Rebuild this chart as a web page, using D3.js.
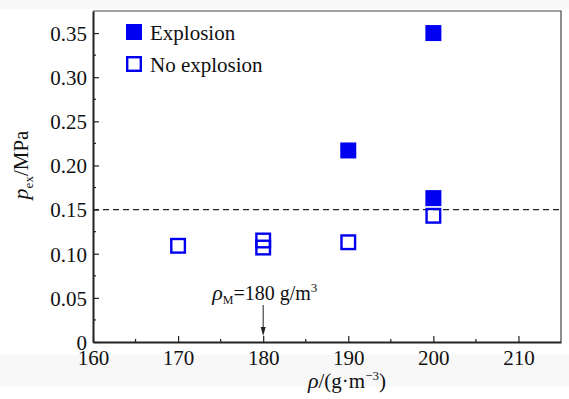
<!DOCTYPE html>
<html><head><meta charset="utf-8">
<script src="https://cdn.jsdelivr.net/npm/d3@7"></script>
<style>body{margin:0;background:#fff}svg{display:block}text{font-family:"Liberation Serif","Times New Roman",serif}</style>
</head><body><svg id="c" width="569" height="399"></svg>
<script>
const explosionX = [190, 200, 200];
const explosionY = [0.217, 0.350, 0.163];
const noExplosionX = [170, 180, 180, 190, 200];
const noExplosionY = [0.109, 0.115, 0.107, 0.113, 0.143];
const xTicks = [160, 170, 180, 190, 200, 210];
const yTicks = [0, 0.05, 0.10, 0.15, 0.20, 0.25, 0.30, 0.35];
const threshold = 0.15;
const rhoM = 180;

const svg = d3.select('#c');
const m = {l: 93, r: 561, t: 11, b: 342};
svg.append('rect').attr('x',0).attr('y',355).attr('width',569).attr('height',32).attr('fill','#f8f8f8');
svg.append('rect').attr('x',0).attr('y',0).attr('width',569).attr('height',9).attr('fill','#f8f8f8');
svg.append('rect').attr('x',m.l).attr('y',m.t).attr('width',m.r-m.l).attr('height',m.b-m.t).attr('fill','#fff');

const x = d3.scaleLinear().domain([160, 215]).range([m.l, m.r]);
const y = d3.scaleLinear().domain([0, 0.375]).range([m.b, m.t]);

svg.append('path').attr('d',`M${m.l},${m.t}H${m.r}V${m.b}`).attr('fill','none').attr('stroke','#444').attr('stroke-width',1.2);

const xMinor = d3.range(165, 215, 10);
svg.append('g').selectAll('line').data(xMinor).join('line')
  .attr('x1',d=>x(d)).attr('x2',d=>x(d)).attr('y1',m.b).attr('y2',m.b-3).attr('stroke','#222').attr('stroke-width',1.2);
const yMinor = d3.range(0.025, 0.375, 0.05);
svg.append('g').selectAll('line').data(yMinor).join('line')
  .attr('y1',d=>y(d)).attr('y2',d=>y(d)).attr('x1',m.l).attr('x2',m.l+3).attr('stroke','#222').attr('stroke-width',1.2);

const xAxis = svg.append('g').attr('transform',`translate(0,${m.b})`)
  .call(d3.axisBottom(x).tickValues(xTicks).tickSizeInner(-6).tickSizeOuter(0).tickPadding(8).tickFormat(d3.format('d')));
const yAxis = svg.append('g').attr('transform',`translate(${m.l},0)`)
  .call(d3.axisLeft(y).tickValues(yTicks).tickSizeInner(-6).tickSizeOuter(0).tickPadding(6).tickFormat(d=>d===0?'0':d3.format('.2f')(d)));
[xAxis,yAxis].forEach(a=>{
  a.select('.domain').attr('stroke','#222').attr('stroke-width',2);
  a.selectAll('.tick line').attr('stroke','#222').attr('stroke-width',1.2);
  a.selectAll('text').attr('font-size',21).attr('fill','#111').style('font-family','"Liberation Serif",serif');
});
xAxis.selectAll('text').attr('dy','0.72em');
yAxis.selectAll('text').attr('dy','0.35em');

svg.append('line').attr('x1',m.l).attr('x2',m.r).attr('y1',y(threshold)).attr('y2',y(threshold))
  .attr('stroke','#222').attr('stroke-width',1.2).attr('stroke-dasharray','6,4');

const s = 16;
svg.append('g').selectAll('rect').data(noExplosionX.map((d,i)=>[d,noExplosionY[i]])).join('rect')
  .attr('x',d=>x(d[0])-s/2+1.2).attr('y',d=>y(d[1])-s/2+1.2).attr('width',s-2.4).attr('height',s-2.4)
  .attr('fill','none').attr('stroke','#0000ee').attr('stroke-width',2.4);
svg.append('g').selectAll('rect').data(explosionX.map((d,i)=>[d,explosionY[i]])).join('rect')
  .attr('x',d=>x(d[0])-s/2).attr('y',d=>y(d[1])-s/2).attr('width',s).attr('height',s)
  .attr('fill','#0000f0');

svg.append('rect').attr('x',126).attr('y',24).attr('width',16).attr('height',16).attr('fill','#0000f0');
svg.append('rect').attr('x',127.2).attr('y',57.2).attr('width',13.6).attr('height',13.6).attr('fill','#fff').attr('stroke','#0000ee').attr('stroke-width',2.4);
svg.append('text').attr('x',150).attr('y',40).attr('font-size',21).attr('fill','#111').text('Explosion');
svg.append('text').attr('x',150).attr('y',72).attr('font-size',21).attr('fill','#111').text('No explosion');

const ann = svg.append('text').attr('x',x(rhoM)-51).attr('y',300).attr('font-size',20).attr('fill','#111');
ann.append('tspan').attr('font-style','italic').attr('font-size',22).text('ρ');
ann.append('tspan').attr('font-size',12).attr('dy',4).text('M');
ann.append('tspan').attr('dy',-4).text('=180 g/m');
ann.append('tspan').attr('font-size',13).attr('dy',-8).text('3');
svg.append('line').attr('x1',x(rhoM)).attr('x2',x(rhoM)).attr('y1',305).attr('y2',330).attr('stroke','#222').attr('stroke-width',1);
svg.append('path').attr('d',`M${x(rhoM)-2.5},327L${x(rhoM)+2.5},327L${x(rhoM)},336Z`).attr('fill','#222');

const xt = svg.append('text').attr('x',347).attr('y',388).attr('text-anchor','middle').attr('font-size',21).attr('fill','#111');
xt.append('tspan').attr('font-style','italic').attr('font-size',22).text('ρ');
xt.append('tspan').text('/(g·m');
xt.append('tspan').attr('font-size',13).attr('dy',-8).text('−3');
xt.append('tspan').attr('dy',8).text(')');

const yt = svg.append('text').attr('transform','translate(28,165) rotate(-90)').attr('text-anchor','middle').attr('font-size',21).attr('fill','#111');
yt.append('tspan').attr('font-style','italic').attr('font-size',22).text('p');
yt.append('tspan').attr('font-size',13).attr('dy',5).text('ex');
yt.append('tspan').attr('dy',-5).text('/MPa');
</script></body></html>
